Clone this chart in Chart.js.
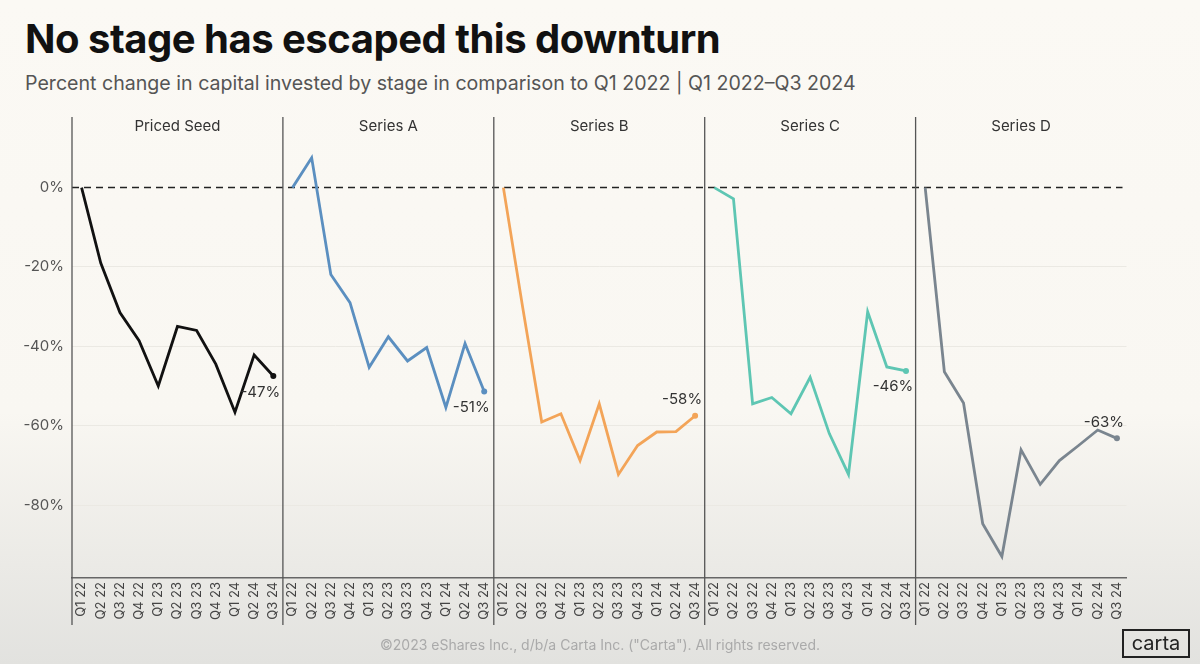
<!DOCTYPE html>
<html>
<head>
<meta charset="utf-8">
<script src="https://cdn.jsdelivr.net/npm/chart.js@4.4.0/dist/chart.umd.min.js"></script>
<style>
  html, body { margin: 0; padding: 0; }
  body {
    width: 1200px; height: 664px; overflow: hidden; position: relative;
    font-family: Inter, "Noto Sans", sans-serif;
    background: linear-gradient(to bottom, #fbf9f4 0%, #f9f7f2 62%, #ebeae6 85%, #e2e2df 100%);
  }
  h1 { position: absolute; left: 25px; top: 14px; margin: 0; font-size: 40px; font-weight: 700; color: #111; letter-spacing: -0.5px; }
  .sub { position: absolute; left: 25px; top: 71px; font-size: 19.6px; color: #555; }
  .wrap { position: absolute; left: 0; top: 100px; width: 1200px; height: 564px; }
  .foot { position: absolute; left: 0; width: 1200px; top: 636px; text-align: center; font-size: 14px; color: #aaa; }
  .logo { position: absolute; left: 1122px; top: 629px; width: 64px; height: 25px; border: 2px solid #222;
          font-size: 20px; line-height: 24px; text-align: center; color: #222; }
</style>
</head>
<body>
<h1>No stage has escaped this downturn</h1>
<div class="sub">Percent change in capital invested by stage in comparison to Q1 2022 | Q1 2022–Q3 2024</div>
<div class="wrap"><canvas id="chart"></canvas></div>
<div class="foot">©2023 eShares Inc., d/b/a Carta Inc. ("Carta"). All rights reserved.</div>
<div class="logo">carta</div>
<script>
// Datos
var quarters = ['Q1 22','Q2 22','Q3 22','Q4 22','Q1 23','Q2 23','Q3 23','Q4 23','Q1 24','Q2 24','Q3 24'];
var stages = ['Priced Seed','Series A','Series B','Series C','Series D'];
var pricedSeed = [0, -19, -31.5, -38.6, -50, -35, -36, -44.5, -56.6, -42.2, -47.5];
var seriesA = [0, 7.5, -21.9, -29, -45.3, -37.6, -43.7, -40.3, -55.4, -39.3, -51.4];
var seriesB = [0, -30, -59.1, -57, -68.8, -54.5, -72.3, -65, -61.6, -61.5, -57.5];
var seriesC = [0, -2.8, -54.5, -52.9, -57, -47.8, -62, -72.3, -31.3, -45.2, -46.2];
var seriesD = [0, -46.4, -54.3, -84.7, -93, -66.1, -74.8, -68.8, -65, -61.1, -63.2];
var endLabels = ['-47%','-51%','-58%','-46%','-63%'];
var yTicks = [0, -20, -40, -60, -80];

var colors = ['#111111', '#5b8fc0', '#f3a458', '#5ec6b3', '#7a858f'];
var labelAbove = [false, false, true, false, true];

var allSeries = [pricedSeed, seriesA, seriesB, seriesC, seriesD];
var n = quarters.length;

// etiquetas del eje x: los trimestres repetidos en cada panel
var labels = [];
stages.forEach(function () { labels = labels.concat(quarters); });

var datasets = allSeries.map(function (vals, i) {
  var d = new Array(n * stages.length).fill(null);
  vals.forEach(function (v, j) { d[i * n + j] = v; });
  return {
    label: stages[i],
    data: d,
    borderColor: colors[i],
    backgroundColor: colors[i],
    borderWidth: 2.8,
    tension: 0,
    spanGaps: false,
    clip: false,
    pointRadius: function (c) { return c.dataIndex === i * n + n - 1 ? 3 : 0; },
    pointBackgroundColor: colors[i],
    pointBorderWidth: 0
  };
});

// Paneles, linea de cero y etiquetas finales
var panels = {
  id: 'panels',
  beforeDatasetsDraw: function (chart) {
    var ctx = chart.ctx, area = chart.chartArea, x = chart.scales.x, y = chart.scales.y;
    var half = (x.getPixelForValue(1) - x.getPixelForValue(0)) / 2;
    var y0 = y.getPixelForValue(0);
    ctx.save();
    ctx.setLineDash([7, 5]);
    ctx.strokeStyle = '#222';
    ctx.lineWidth = 1.5;
    ctx.beginPath();
    ctx.moveTo(area.left, y0);
    ctx.lineTo(area.right - 4, y0);
    ctx.stroke();
    ctx.setLineDash([]);
    stages.forEach(function (s, i) {
      var xl = x.getPixelForValue(i * n) - half;
      var xr = x.getPixelForValue(i * n + n - 1) + half;
      ctx.strokeStyle = '#555';
      ctx.lineWidth = 1.3;
      ctx.beginPath();
      ctx.moveTo(xl, area.top);
      ctx.lineTo(xl, area.bottom + 47);
      ctx.stroke();
      ctx.fillStyle = '#333';
      ctx.font = '15px Inter';
      ctx.textAlign = 'center';
      ctx.textBaseline = 'middle';
      ctx.fillText(s, (xl + xr) / 2, area.top + 9);
    });
    ctx.restore();
  },
  afterDatasetsDraw: function (chart) {
    var ctx = chart.ctx;
    ctx.save();
    ctx.font = '15px Inter';
    ctx.fillStyle = '#333';
    ctx.textAlign = 'center';
    ctx.textBaseline = 'middle';
    stages.forEach(function (s, i) {
      var pt = chart.getDatasetMeta(i).data[i * n + n - 1];
      ctx.fillText(endLabels[i], pt.x - 13, pt.y + (labelAbove[i] ? -16 : 16));
    });
    ctx.restore();
  }
};

var ctx = document.getElementById('chart').getContext('2d');
var chart = new Chart(ctx, {
  type: 'line',
  data: { labels: labels, datasets: datasets },
  options: {
    responsive: true,
    maintainAspectRatio: false,
    animation: false,
    layout: { padding: { top: 13, right: 73.5, left: 0, bottom: 0 } },
    plugins: { legend: { display: false }, tooltip: { enabled: false } },
    scales: {
      x: {
        offset: true,
        grid: { display: false, drawTicks: false },
        border: { display: true, color: '#666', width: 1.5 },
        ticks: {
          autoSkip: false, maxRotation: 90, minRotation: 90,
          color: '#444', font: { size: 13, family: 'Inter' }, padding: 4
        },
        afterFit: function (s) { s.height = 86; }
      },
      y: {
        min: -98.4,
        max: 17.8,
        afterBuildTicks: function (s) { s.ticks = yTicks.map(function (v) { return { value: v }; }); },
        grid: {
          drawTicks: false,
          color: function (c) { return c.tick && c.tick.value === 0 ? 'rgba(0,0,0,0)' : '#ebe9e3'; }
        },
        border: { display: false },
        ticks: {
          color: '#555', font: { size: 15, family: 'Inter' }, padding: 8,
          callback: function (v) { return v + '%'; }
        },
        afterFit: function (s) { s.width = 72; }
      }
    }
  },
  plugins: [panels]
});
</script>
</body>
</html>
